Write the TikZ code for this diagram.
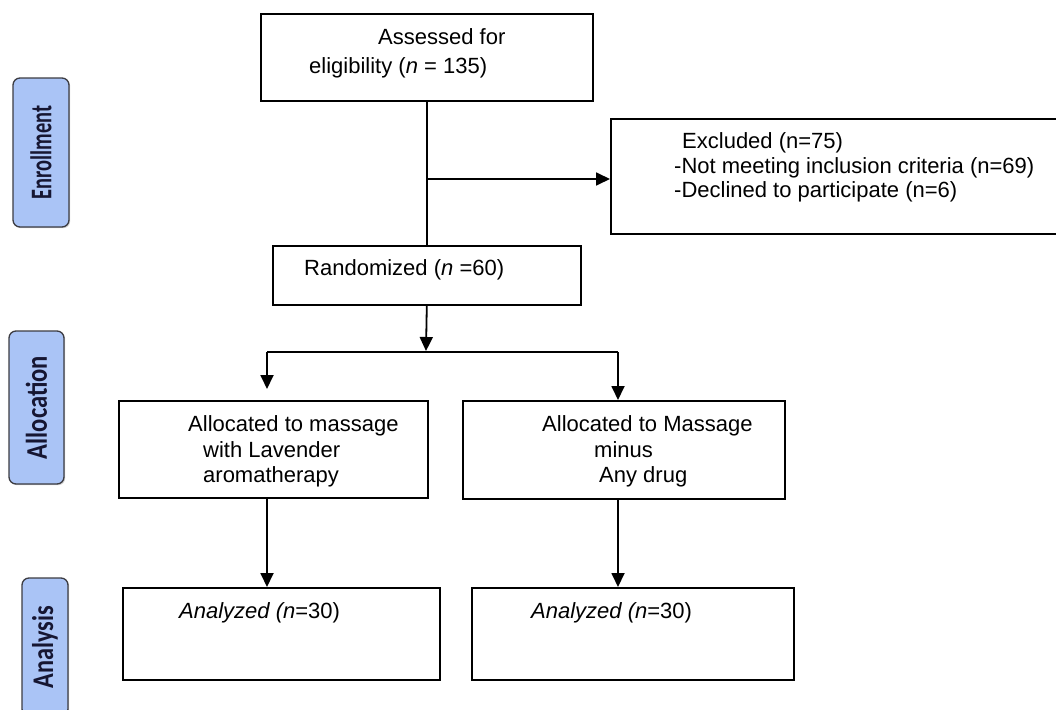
\documentclass[tikz,border=0pt]{standalone}
\usepackage{fontspec}
\setmainfont{Liberation Sans}
\newfontfamily\labfont{Carlito}
\usetikzlibrary{arrows.meta,shadows}
\definecolor{labfill}{RGB}{170,196,246}
\definecolor{labdraw}{RGB}{60,60,66}
\definecolor{labtext}{RGB}{22,22,50}
\begin{document}
\begin{tikzpicture}[x=1pt,y=-1pt,
  box/.style={draw, line width=1.6pt, inner sep=0pt, anchor=north west},
  txt/.style={anchor=base west, inner sep=0pt, font=\fontsize{22}{25}\selectfont},
  ln/.style={line width=1.8pt},
  arr/.style={line width=1.8pt, -{Triangle[length=14pt,width=13pt]}},
  lab/.style={draw=labdraw, fill=labfill, line width=1.3pt, rounded corners=7pt,
    rotate=90, inner sep=0pt, text=labtext,
    font=\labfont\bfseries\fontsize{30}{30}\selectfont,
    drop shadow={shadow xshift=1.2pt, shadow yshift=-1.2pt, fill=black!35}}
]
\useasboundingbox (0,0) rectangle (1056,709);

% side labels
\node[lab, minimum width=149pt, minimum height=56pt] (enr) at (41,152.5) {\scalebox{0.68}[1]{Enrollment}};
\node[lab, minimum width=153pt, minimum height=55pt] (alc) at (36.5,407.5) {\scalebox{0.82}[1]{Allocation}};
\node[lab, minimum width=138pt, minimum height=46pt] (ana) at (45,647) {\scalebox{0.81}[1]{Analysis}};

% boxes
\node[box, minimum width=332pt, minimum height=87pt] (assess) at (260,13) {};
\node[box, minimum width=447pt, minimum height=115pt] (excl) at (610,118) {};
\node[box, minimum width=308pt, minimum height=59pt] (rand) at (272,245) {};
\node[box, minimum width=309pt, minimum height=97pt] (allocL) at (118,400) {};
\node[box, minimum width=322pt, minimum height=98pt] (allocR) at (462,400) {};
\node[box, minimum width=317pt, minimum height=92pt] (anaL) at (122,587) {};
\node[box, minimum width=322pt, minimum height=92pt] (anaR) at (471,587) {};

% texts
\node[txt] (t1) at (378,45) {Assessed for};
\node[txt] (t2) at (309,74) {eligibility (\textit{n} = 135)};
\node[txt] (t3) at (682,148) {Excluded (n=75)};
\node[txt] (t4) at (674,173) {-Not meeting inclusion criteria (n=69)};
\node[txt] (t5) at (674,197) {-Declined to participate (n=6)};
\node[txt] (t6) at (304,275) {Randomized (\textit{n} =60)};
\node[txt] (t7) at (188,431) {Allocated to massage};
\node[txt] (t8) at (203,457) {with Lavender};
\node[txt] (t9) at (203,482) {aromatherapy};
\node[txt] (t10) at (542,431) {Allocated to Massage};
\node[txt] (t11) at (594,457) {minus};
\node[txt] (t12) at (599,482) {Any drug};
\node[txt] (t13) at (179,618) {\textit{Analyzed (n}=30)};
\node[txt] (t14) at (531,618) {\textit{Analyzed (n}=30)};

% connectors
\coordinate (j1) at (426,179);
\coordinate (j2) at (426,352);
\coordinate (j2tip) at (426,351);
\coordinate (bl) at (267,352);
\coordinate (br) at (618,352);
\coordinate (blt) at (267,389);
\draw[ln] (assess.south) -- (rand.north);
\draw[arr] (j1) -- (j1 -| excl.west);
\draw[arr] (rand.south) -- (j2tip);
\draw[ln] (j2) -- (bl);
\draw[ln] (j2) -- (br);
\draw[arr] (bl) -- (blt);
\draw[arr] (br) -- (br |- allocR.north);
\draw[arr] (allocL.south -| bl) -- (anaL.north -| bl);
\draw[arr] (allocR.south -| br) -- (anaR.north -| br);
\end{tikzpicture}
\end{document}
